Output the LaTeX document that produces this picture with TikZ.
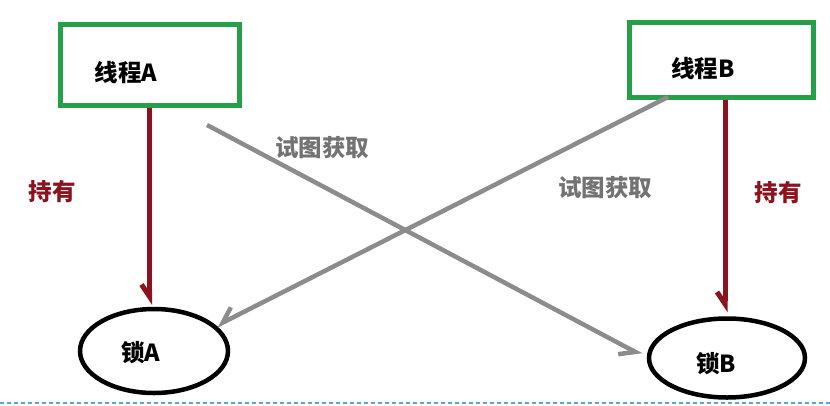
\documentclass[tikz,border=0pt]{standalone}
\usepackage{fontspec}
\setmainfont{Noto Sans CJK SC}
\usetikzlibrary{arrows.meta,shapes.geometric}
\definecolor{boxgreen}{RGB}{38,160,72}
\definecolor{holdred}{RGB}{140,18,30}
\definecolor{trygray}{RGB}{140,140,140}
\definecolor{trytext}{RGB}{115,115,115}
\definecolor{sepblue}{RGB}{90,165,225}
\tikzset{
  thread/.style={draw=boxgreen,line width=5pt,minimum width=#1,inner sep=0pt},
  lock/.style={draw=black,line width=4.5pt,ellipse,inner sep=0pt},
  tag/.style={font=\fontsize{23.5}{26}\selectfont\bfseries},
  holdarrow/.style={draw=holdred,line width=5pt,-{Straight Barb[right,length=12pt,width=16pt]}},
  tryarrow/.style={draw=trygray,line width=4.5pt,-{Straight Barb[right,length=14pt,width=20pt]}}
}
\begin{document}
\begin{tikzpicture}[x=1pt,y=-1pt]
\useasboundingbox (0,0) rectangle (830,405);
\node[thread=179pt,minimum height=81pt] (thA) at (149.5,64.5) {};
\node[thread=184pt,minimum height=75pt] (thB) at (721,59.5) {};
\node[lock,minimum width=148pt,minimum height=84pt] (lockA) at (154,351) {};
\node[lock,minimum width=156pt,minimum height=79pt] (lockB) at (727,358) {};
\node[tag] (tA) at (126,73) {线程A};
\node[tag] (tB) at (703,69) {线程B};
\node[tag] (lA) at (141,353) {锁A};
\node[tag] (lB) at (716,364) {锁B};
\node[tag,text=holdred] (hA) at (52,192) {持有};
\node[tag,text=holdred] (hB) at (778,193) {持有};
\node[tag,text=trytext] (gA) at (322,148) {试图获取};
\node[tag,text=trytext] (gB) at (605,188) {试图获取};
\coordinate (sA) at (207,125);
\coordinate (sB) at (668,97);
\draw[holdarrow,shorten >=2pt] (thA.south) -- (thA.south |- lockA.north);
\draw[holdarrow,shorten >=4pt] ([xshift=4pt]thB.south) -- ([xshift=4pt]thB.south |- lockB.north);
\draw[tryarrow,shorten >=6pt] (sA) -- (lockB.west);
\draw[tryarrow] (sB) -- (lockA.22);
\draw[sepblue,line width=1.3pt,dash pattern=on 4pt off 3pt] (0,403) -- (830,403);
\end{tikzpicture}
\end{document}
